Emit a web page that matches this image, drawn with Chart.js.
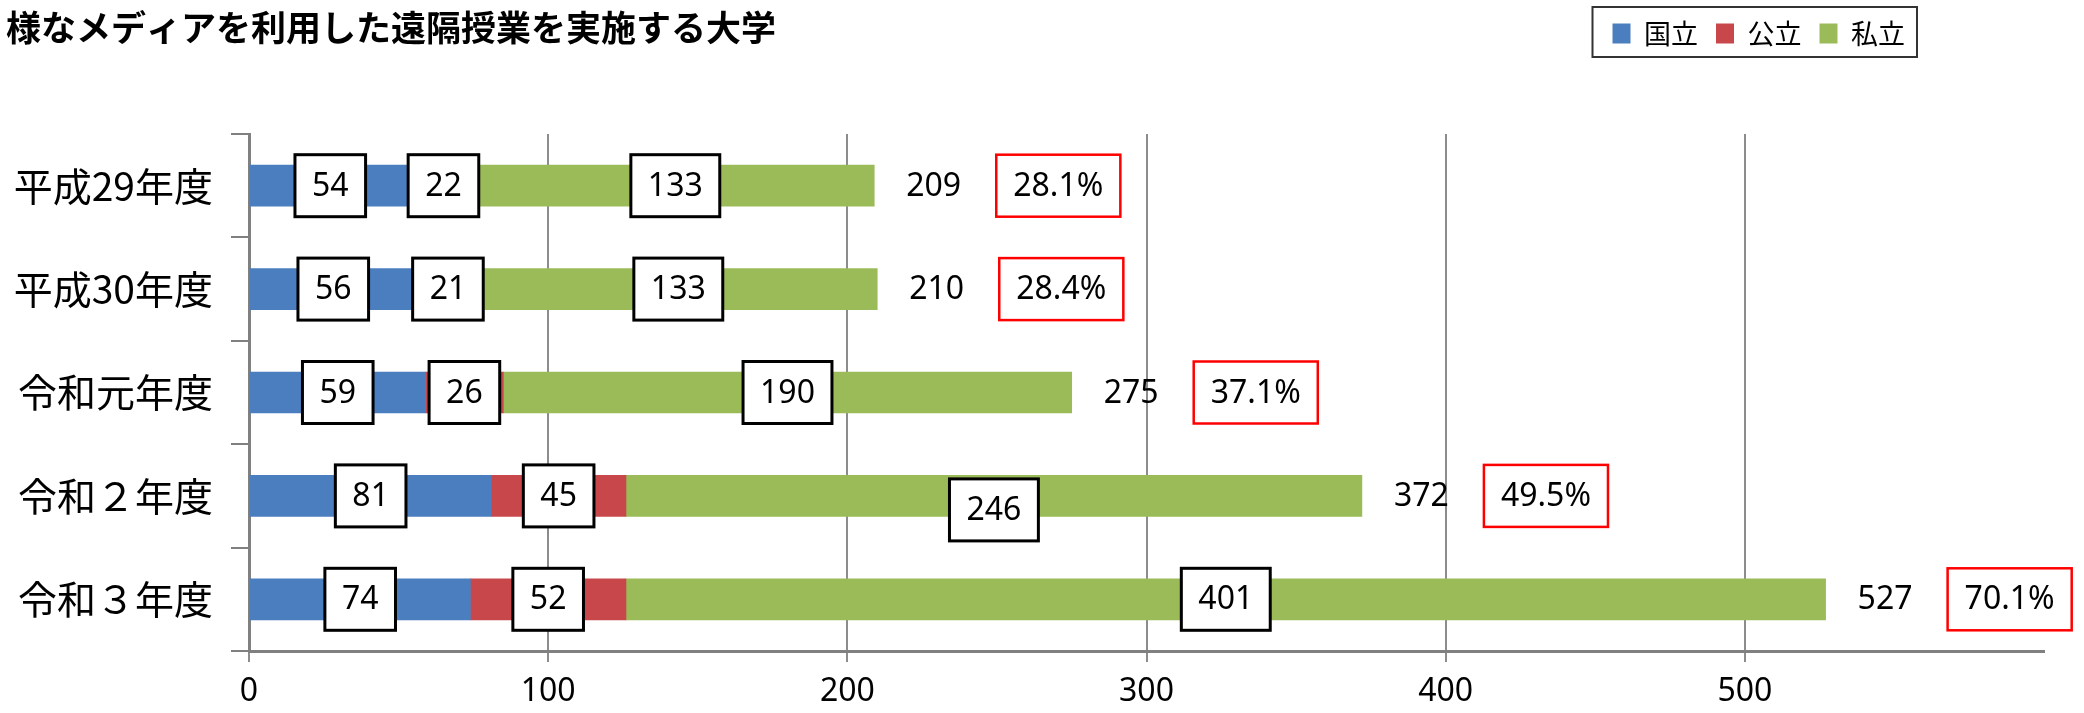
<!DOCTYPE html>
<html lang="ja">
<head>
<meta charset="utf-8">
<title>様なメディアを利用した遠隔授業を実施する大学</title>
<script src="https://cdn.jsdelivr.net/npm/chart.js@4.4.1/dist/chart.umd.min.js"></script>
<style>
    html, body { margin: 0; padding: 0; background: #fff; }
    #wrap { width: 2084px; height: 713px; }
</style>
</head>
<body>
<div id="wrap"><canvas id="chart" width="2084" height="713"></canvas></div>
<script>
const chartTitle = '様なメディアを利用した遠隔授業を実施する大学';
const categories = ['平成29年度', '平成30年度', '令和元年度', '令和２年度', '令和３年度'];
const seriesNames = ['国立', '公立', '私立'];
const nationalValues = [54, 56, 59, 81, 74];
const publicValues = [22, 21, 26, 45, 52];
const privateValues = [133, 133, 190, 246, 401];
const totalValues = [209, 210, 275, 372, 527];
const shareLabels = ['28.1%', '28.4%', '37.1%', '49.5%', '70.1%'];
const xTicks = [0, 100, 200, 300, 400, 500];

const seriesColors = ['#4a7ebf', '#c8474a', '#9bbb59'];
const numberFont = '32px "Noto Sans", "Noto Sans CJK JP", sans-serif';

// one label box sits a bit lower in the original (令和２年度, 私立)
const boxNudge = { '2:3': 14 };

const drawBox = (ctx, text, cx, cy, stroke, lineWidth) => {
    const w = ctx.measureText(text).width + 34;
    const h = 62;
    ctx.fillStyle = '#fff';
    ctx.fillRect(cx - w / 2, cy - h / 2, w, h);
    ctx.lineWidth = lineWidth;
    ctx.strokeStyle = stroke;
    ctx.strokeRect(cx - w / 2, cy - h / 2, w, h);
    ctx.fillStyle = '#000';
    ctx.fillText(text, cx, cy + 1);
};

const titlePlugin = {
    id: 'titleText',
    afterDraw(chart) {
        const { ctx } = chart;
        ctx.save();
        ctx.font = 'bold 35px "Noto Sans CJK JP", sans-serif';
        ctx.fillStyle = '#000';
        ctx.textAlign = 'left';
        ctx.textBaseline = 'middle';
        ctx.fillText(chartTitle, 6, 28);
        ctx.restore();
    },
};

const legendFrame = {
    id: 'legendFrame',
    afterLayout(chart) {
        const lg = chart.legend;
        const dx = 1923 - lg.right;
        const dy = 2 - lg.top;
        lg.left += dx;
        lg.right += dx;
        lg.top += dy;
        lg.bottom += dy;
    },
    afterDraw(chart) {
        const lg = chart.legend;
        const pad = lg.options.labels.padding;
        const left = lg.right - lg.lineWidths[0] - 20;
        const right = lg.right - pad + 12;
        const { ctx } = chart;
        ctx.save();
        ctx.lineWidth = 2;
        ctx.strokeStyle = '#333';
        ctx.strokeRect(left, 7, right - left, 50);
        ctx.restore();
    },
};

const valueLabels = {
    id: 'valueLabels',
    afterDatasetsDraw(chart) {
        const { ctx } = chart;
        const xScale = chart.scales.x;
        ctx.save();
        ctx.font = numberFont;
        ctx.textAlign = 'center';
        ctx.textBaseline = 'middle';

        chart.data.datasets.forEach((dataset, d) => {
            const meta = chart.getDatasetMeta(d);
            meta.data.forEach((bar, i) => {
                const { x, base, y } = bar.getProps(['x', 'base', 'y'], true);
                const nudge = boxNudge[`${d}:${i}`] || 0;
                drawBox(ctx, String(dataset.data[i]), (x + base) / 2, y + nudge, '#000', 3);
            });
        });

        const lastMeta = chart.getDatasetMeta(chart.data.datasets.length - 1);
        totalValues.forEach((total, i) => {
            const end = xScale.getPixelForValue(total);
            const y = lastMeta.data[i].y;
            ctx.textAlign = 'left';
            ctx.fillStyle = '#000';
            ctx.fillText(String(total), end + 32, y + 1);
            ctx.textAlign = 'center';
            const w = ctx.measureText(shareLabels[i]).width + 34;
            drawBox(ctx, shareLabels[i], end + 122 + w / 2, y, '#ff0000', 2.5);
        });
        ctx.restore();
    },
};

const seriesValues = [nationalValues, publicValues, privateValues];

new Chart(document.getElementById('chart'), {
    type: 'bar',
    data: {
        labels: categories,
        datasets: seriesNames.map((name, index) => ({
            label: name,
            data: seriesValues[index],
            backgroundColor: seriesColors[index],
            borderWidth: 0,
            barThickness: 41,
        })),
    },
    options: {
        indexAxis: 'y',
        responsive: false,
        animation: false,
        layout: { padding: { top: 79, right: 40, bottom: 0, left: 0 } },
        plugins: {
            title: { display: false },
            tooltip: { enabled: false },
            legend: {
                position: 'top',
                align: 'end',
                labels: {
                    color: '#000',
                    boxWidth: 18,
                    boxHeight: 20,
                    padding: 18,
                    font: { size: 27, family: '"Noto Sans CJK JP", sans-serif' },
                },
            },
        },
        scales: {
            x: {
                stacked: true,
                min: 0,
                max: 600,
                afterFit: (scale) => { scale.height = 62; },
                afterBuildTicks: (scale) => {
                    scale.ticks = xTicks.concat([600]).map((value) => ({ value }));
                },
                ticks: {
                    color: '#000',
                    padding: 14,
                    font: { size: 32, family: '"Noto Sans", sans-serif', lineHeight: 1 },
                    callback: (value) => (value === 600 ? '' : value),
                },
                grid: {
                    color: (ctx) => (ctx.tick && ctx.tick.value === 600 ? 'rgba(0,0,0,0)' : '#8c8c8c'),
                    lineWidth: 2,
                    tickLength: 11,
                },
                border: { color: '#808080', width: 3 },
            },
            y: {
                stacked: true,
                afterFit: (scale) => { scale.width = 249; },
                ticks: {
                    color: '#000',
                    padding: 18,
                    font: { size: 39, family: '"Noto Sans CJK JP", sans-serif' },
                },
                grid: {
                    drawOnChartArea: false,
                    color: '#808080',
                    lineWidth: 2,
                    tickLength: 18,
                    offset: true,
                },
                border: { color: '#808080', width: 3 },
            },
        },
    },
    plugins: [titlePlugin, legendFrame, valueLabels],
});
</script>
</body>
</html>
